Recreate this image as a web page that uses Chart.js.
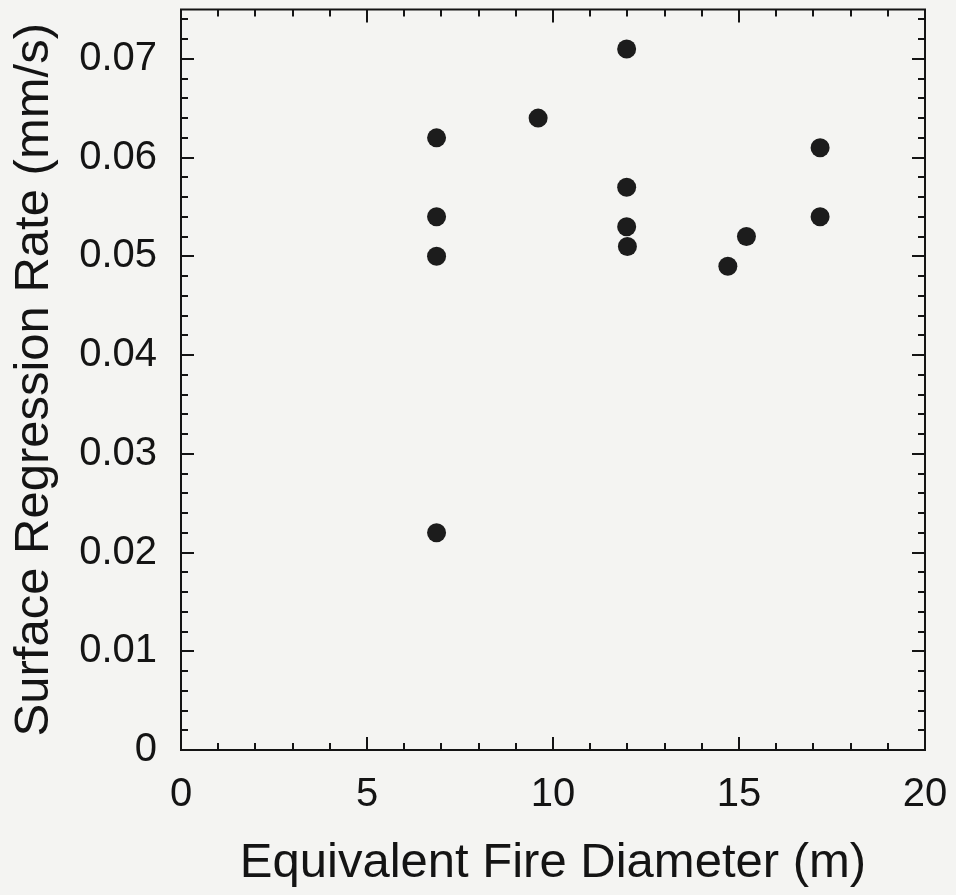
<!DOCTYPE html>
<html>
<head>
<meta charset="utf-8">
<script src="https://cdn.jsdelivr.net/npm/chart.js@4"></script>
<style>
  html, body { margin: 0; padding: 0; background: #f4f4f2; }
  #wrap { width: 956px; height: 895px; }
</style>
</head>
<body>
<div id="wrap"><canvas id="c" width="956" height="895"></canvas></div>
<script>
// ---- data ----
const diameters = [6.87, 6.87, 6.87, 6.87, 9.6, 11.98, 11.98, 11.98, 12.0, 14.7, 15.2, 17.18, 17.18];
const rates     = [0.062, 0.054, 0.050, 0.022, 0.064, 0.071, 0.057, 0.053, 0.051, 0.049, 0.052, 0.061, 0.054];

const xTickValues = [0, 5, 10, 15, 20];
const xTickLabels = ['0', '5', '10', '15', '20'];
const yTickValues = [0, 0.01, 0.02, 0.03, 0.04, 0.05, 0.06, 0.07];
const yTickLabels = ['0', '0.01', '0.02', '0.03', '0.04', '0.05', '0.06', '0.07'];

const xTitle = 'Equivalent Fire Diameter (m)';
const yTitle = 'Surface Regression Rate (mm/s)';

const FONT = "'Liberation Sans', Arial, Helvetica, sans-serif";
const INK = '#141414';

const points = diameters.map((d, i) => ({ x: d, y: rates[i] }));

const frameTicks = {
  id: 'frameTicks',
  beforeDraw(chart) {
    const { ctx, width, height } = chart;
    ctx.save();
    ctx.fillStyle = '#f4f4f2';
    ctx.fillRect(0, 0, width, height);
    ctx.restore();
  },
  afterDatasetsDraw(chart) {
    const { ctx, chartArea: a, scales: { x, y } } = chart;
    ctx.save();
    ctx.strokeStyle = INK;
    ctx.lineWidth = 2;
    ctx.strokeRect(a.left, a.top, a.right - a.left, a.bottom - a.top);
    const MAJ = 13, MIN = 7;
    ctx.beginPath();
    for (let v = 0; v <= 20.0001; v += 1) {
      const px = Math.round(x.getPixelForValue(v));
      const len = (Math.abs(v % 5) < 1e-6) ? MAJ : MIN;
      ctx.moveTo(px, a.bottom); ctx.lineTo(px, a.bottom - len);
      ctx.moveTo(px, a.top); ctx.lineTo(px, a.top + len);
    }
    for (let k = 0; k <= 37; k++) {
      const v = k * 0.002;
      if (v > 0.0751) break;
      const py = Math.round(y.getPixelForValue(v));
      const len = (k % 5 === 0) ? MAJ : MIN;
      ctx.moveTo(a.left, py); ctx.lineTo(a.left + len, py);
      ctx.moveTo(a.right, py); ctx.lineTo(a.right - len, py);
    }
    ctx.stroke();
    ctx.restore();
  }
};

function zeroPad(s) { s.paddingTop = 0; s.paddingBottom = 0; s.paddingLeft = 0; s.paddingRight = 0; }

new Chart(document.getElementById('c'), {
  type: 'scatter',
  data: {
    datasets: [{
      data: points,
      pointRadius: 9.5,
      pointHoverRadius: 9.5,
      backgroundColor: '#1c1c1c',
      borderColor: '#1c1c1c',
      borderWidth: 0
    }]
  },
  options: {
    responsive: false,
    animation: false,
    events: [],
    layout: { padding: { left: 0, top: 7, right: 31, bottom: 0 } },
    plugins: { legend: { display: false }, tooltip: { enabled: false } },
    scales: {
      x: {
        type: 'linear',
        min: 0, max: 20,
        afterBuildTicks: s => { s.ticks = xTickValues.map(v => ({ value: v })); },
        afterFit: s => { s.height = 145; zeroPad(s); },
        grid: { display: false, drawTicks: false },
        border: { display: false },
        ticks: {
          padding: 21,
          maxRotation: 0,
          autoSkip: false,
          color: INK,
          font: { family: FONT, size: 40 },
          callback: (v, i) => xTickLabels[i]
        },
        title: {
          display: true,
          text: xTitle,
          color: INK,
          font: { family: FONT, size: 49 },
          padding: { top: 0, bottom: 2 }
        }
      },
      y: {
        type: 'linear',
        min: 0, max: 0.075,
        afterBuildTicks: s => { s.ticks = yTickValues.map(v => ({ value: v })); },
        afterFit: s => { s.width = 181; zeroPad(s); },
        grid: { display: false, drawTicks: false },
        border: { display: false },
        ticks: {
          padding: 24,
          autoSkip: false,
          color: INK,
          font: { family: FONT, size: 40 },
          callback: (v, i) => yTickLabels[i]
        },
        title: {
          display: true,
          text: yTitle,
          color: INK,
          font: { family: FONT, size: 49 },
          padding: { top: 5, bottom: 0 }
        }
      }
    }
  },
  plugins: [frameTicks]
});
</script>
</body>
</html>
